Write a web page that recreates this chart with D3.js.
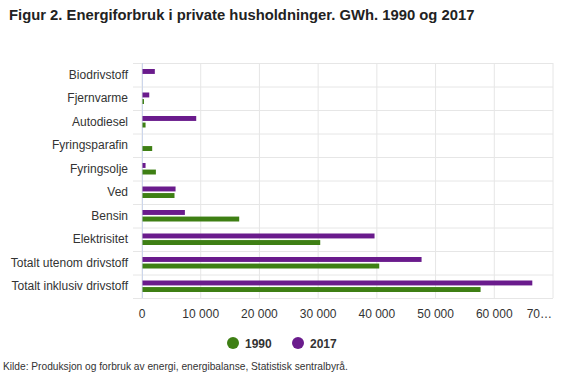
<!DOCTYPE html>
<html>
<head>
<meta charset="utf-8">
<script src="https://cdn.jsdelivr.net/npm/d3@7"></script>
<style>
  body { margin: 0; background: #fff; }
  text { font-family: "Liberation Sans", Arial, Helvetica, sans-serif; }
</style>
</head>
<body>
<div id="chart"></div>
<script>
// categories top to bottom
const categories = ["Biodrivstoff", "Fjernvarme", "Autodiesel", "Fyringsparafin", "Fyringsolje",
  "Ved", "Bensin", "Elektrisitet", "Totalt utenom drivstoff", "Totalt inklusiv drivstoff"];
const values1990 = [0, 250, 520, 1650, 2280, 5450, 16470, 30270, 40320, 57580];
const values2017 = [2100, 1150, 9150, 0, 520, 5630, 7220, 39520, 47530, 66390];
const seriesNames = ["2017", "1990"];
const tickValues = [0, 10000, 20000, 30000, 40000, 50000, 60000, 70000];

const W = 563, H = 375;
const margin = {top: 63, right: 10, bottom: 77, left: 142};
const width = 553 - margin.left, height = 298 - margin.top;

const svg = d3.select("#chart").append("svg")
  .attr("width", W).attr("height", H);

svg.append("text")
  .attr("x", 9).attr("y", 20)
  .style("font-size", "14.8px").style("font-weight", "bold").attr("fill", "#222")
  .text("Figur 2. Energiforbruk i private husholdninger. GWh. 1990 og 2017");

const g = svg.append("g").attr("transform", `translate(${margin.left},${margin.top})`);

const x = d3.scaleLinear().domain([0, 70000]).range([0, width]);
const y = d3.scaleBand().domain(categories).range([0, height]);
const inner = d3.scaleBand().domain(seriesNames).range([6, 17.5]).paddingInner(0.25);
const color = {"1990": "#3e7f14", "2017": "#6a1b8c"};

// vertical grid
g.append("g").selectAll("line").data(tickValues).join("line")
  .attr("x1", d => x(d)).attr("x2", d => x(d))
  .attr("y1", 0).attr("y2", height)
  .attr("stroke", "#e6e6e6");

// category separators + ticks
const seps = d3.range(categories.length + 1).map(i => i * y.step());
g.append("g").selectAll("line").data(seps).join("line")
  .attr("x1", -9).attr("x2", width)
  .attr("y1", d => d + 0.5).attr("y2", d => d + 0.5)
  .attr("stroke", "#e6e6e6");

g.append("line").attr("x1", 0.5).attr("x2", 0.5).attr("y1", 0).attr("y2", height)
  .attr("stroke", "#ccd6eb");

// x axis labels (last one is truncated in the original)
const last = tickValues[tickValues.length - 1];
const fmt = v => v === last ? "70…" : d3.format(",")(v).replace(/,/g, "\u00a0");
g.append("g").selectAll("text").data(tickValues).join("text")
  .attr("x", d => d === last ? x(d) - 1 : x(d)).attr("y", height + 20)
  .attr("text-anchor", d => d === last ? "end" : "middle")
  .style("font-size", "12px").attr("fill", "#333")
  .text(fmt);

// category labels
g.append("g").selectAll("text").data(categories).join("text")
  .attr("x", -14).attr("y", d => y(d) + y.bandwidth() / 2 + 4)
  .attr("text-anchor", "end")
  .style("font-size", "12px").attr("fill", "#333")
  .text(d => d);

// bars
const rows = categories.map((c, i) => ({cat: c, "1990": values1990[i], "2017": values2017[i]}));
seriesNames.forEach(s => {
  g.append("g").selectAll("rect").data(rows.filter(r => r[s] > 0)).join("rect")
    .attr("x", x(0) + 0.5)
    .attr("y", d => y(d.cat) + inner(s))
    .attr("width", d => x(d[s]) - x(0))
    .attr("height", inner.bandwidth())
    .attr("fill", color[s]);
});

// legend
const legend = svg.append("g").attr("transform", "translate(0,343)");
[["1990", 233, 245], ["2017", 298, 310]].forEach(([name, cx, tx]) => {
  legend.append("circle").attr("cx", cx).attr("cy", 0).attr("r", 6).attr("fill", color[name]);
  legend.append("text").attr("x", tx).attr("y", 4.5)
    .style("font-size", "12px").style("font-weight", "bold").attr("fill", "#333").text(name);
});

svg.append("text")
  .attr("x", 3).attr("y", 370)
  .style("font-size", "10.2px").attr("fill", "#333")
  .text("Kilde: Produksjon og forbruk av energi, energibalanse, Statistisk sentralbyrå.");
</script>
</body>
</html>
